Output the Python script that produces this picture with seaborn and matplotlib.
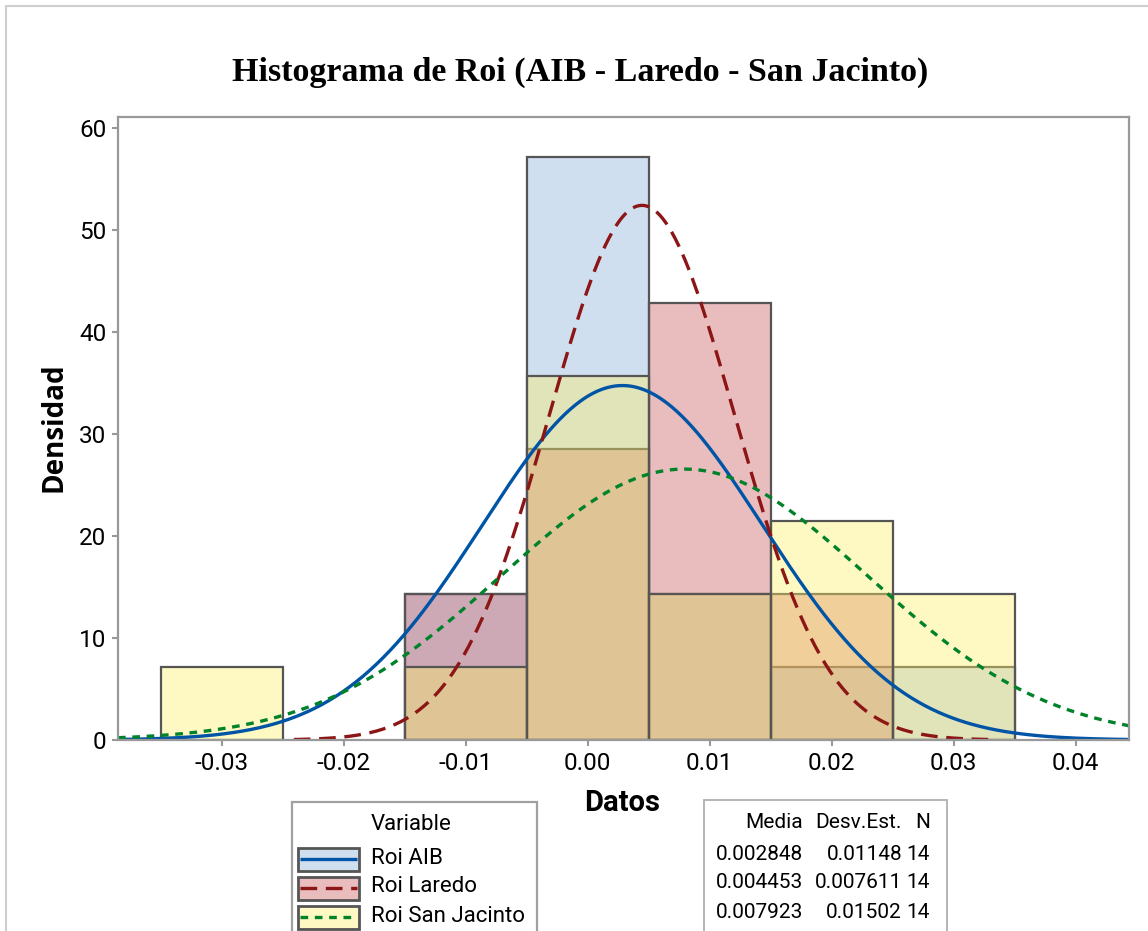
import numpy as np
import pandas as pd
import matplotlib
matplotlib.use("Agg")
import matplotlib.pyplot as plt
from matplotlib import font_manager
from matplotlib.patches import Rectangle
from matplotlib.lines import Line2D
import seaborn as sns

# ---------------- data ----------------
bin_centers = [-0.03, -0.02, -0.01, 0.00, 0.01, 0.02, 0.03]
bin_edges = [-0.035, -0.025, -0.015, -0.005, 0.005, 0.015, 0.025, 0.035]
counts_aib = [0, 0, 2, 8, 2, 1, 1]
counts_laredo = [0, 0, 2, 4, 6, 2, 0]
counts_sanjacinto = [1, 0, 1, 5, 2, 3, 2]
series_names = ["Roi AIB", "Roi Laredo", "Roi San Jacinto"]
means = [0.002848, 0.004453, 0.007923]
stdevs = [0.01148, 0.007611, 0.01502]
n_obs = [14, 14, 14]
mean_labels = ["0.002848", "0.004453", "0.007923"]
sd_labels = ["0.01148", "0.007611", "0.01502"]
x_ticks = [-0.03, -0.02, -0.01, 0.00, 0.01, 0.02, 0.03, 0.04]
x_tick_labels = ["-0.03", "-0.02", "-0.01", "0.00", "0.01", "0.02", "0.03", "0.04"]
y_ticks = [0, 10, 20, 30, 40, 50, 60]
y_tick_labels = ["0", "10", "20", "30", "40", "50", "60"]

# ---------------- style ----------------
sns.set_style("white")
avail = {f.name for f in font_manager.fontManager.ttflist}
narrow = next((f for f in ["Liberation Sans Narrow", "Roboto"] if f in avail), "DejaVu Sans")
plt.rcParams["font.family"] = [narrow, "DejaVu Sans"]
plt.rcParams["text.color"] = "black"
plt.rcParams["axes.labelcolor"] = "black"

W, H = 1148, 931
fig = plt.figure(figsize=(W / 100, H / 100), dpi=100)

def fx(x):
    return x / W

def fy(y):
    return 1 - y / H

ax_l, ax_r, ax_t, ax_b = 118, 1129, 117, 740
ax = fig.add_axes([fx(ax_l), fy(ax_b), fx(ax_r - ax_l), (ax_b - ax_t) / H])

fill_colors = ["#8aafda", "#c8585a", "#fdee67"]
line_colors = ["#0054a6", "#8c1515", "#00822a"]
line_styles = [(0, ()), (0, (5, 2.6)), (0, (2.3, 2.0))]
alpha = 0.4

df = pd.DataFrame({"centro": bin_centers * 3,
                   "conteo": counts_aib + counts_laredo + counts_sanjacinto,
                   "serie": sum([[s] * len(bin_centers) for s in series_names], [])})

for i, name in enumerate(series_names):
    before = len(ax.patches)
    sub = df[df["serie"] == name]
    sns.histplot(data=sub, x="centro", weights="conteo", bins=bin_edges,
                 stat="density", color=fill_colors[i], ax=ax)
    new = ax.patches[before:]
    rgb = matplotlib.colors.to_rgb(fill_colors[i])
    for p in new:
        if p.get_height() <= 0:
            p.remove()
            continue
        p.set_alpha(None)
        p.set_facecolor((*rgb, alpha))
        p.set_edgecolor("#555555")
        p.set_linewidth(1.6)

xmin, xmax = -0.0385, 0.04438
for i, name in enumerate(series_names):
    lo = max(xmin, means[i] - 3.75 * stdevs[i])
    hi = min(xmax, means[i] + 3.75 * stdevs[i])
    xs = np.linspace(lo, hi, 600)
    ys = np.exp(-0.5 * ((xs - means[i]) / stdevs[i]) ** 2) / (stdevs[i] * np.sqrt(2 * np.pi))
    sns.lineplot(x=xs, y=ys, ax=ax, color=line_colors[i], linewidth=2.4,
                 linestyle=line_styles[i], clip_on=True)

ax.set_xlim(xmin, xmax)
ax.set_ylim(0, 61.08)
ax.set_xticks(x_ticks)
ax.set_xticklabels(x_tick_labels)
ax.set_yticks(y_ticks)
ax.set_yticklabels(y_tick_labels)
ax.tick_params(axis="both", direction="out", length=4.5, width=1.5, color="#999999",
               labelcolor="black", labelsize=17.5, pad=4, bottom=True, left=True)
for s in ax.spines.values():
    s.set_color("#999999")
    s.set_linewidth(1.6)
ax.set_xlabel("")
ax.set_ylabel("")

# axis labels
fig.text(fx(622), fy(803), "Datos", ha="center", va="center", fontsize=21,
         fontweight="bold", family=[narrow, "DejaVu Sans"])
fig.text(fx(54), fy(427), "Densidad", ha="center", va="center", fontsize=20,
         fontweight="bold", rotation=90, family=["Open Sans", "DejaVu Sans"])

# title
fig.text(fx(580), fy(72), "Histograma de Roi (AIB - Laredo - San Jacinto)", ha="center",
         va="center", fontsize=24.5, fontweight="bold", family=["Liberation Serif", "DejaVu Serif"])

# outer border (partially visible)
fig.add_artist(Rectangle((fx(6), fy(H + 20)), fx(W + 20), (H + 14) / H,
                         transform=fig.transFigure, fill=False, edgecolor="#cfcfcf",
                         linewidth=1.5, clip_on=False))

# legend box
fig.add_artist(Rectangle((fx(292), fy(H + 20)), fx(537 - 292), (H + 20 - 802) / H,
                         transform=fig.transFigure, fill=False, edgecolor="#a0a0a0",
                         linewidth=1.6, clip_on=False))
fig.text(fx(371), fy(825), "Variable", ha="left", va="center", fontsize=16)
row_y = [859, 888, 917]
for i, name in enumerate(series_names):
    yc = row_y[i]
    rgb = matplotlib.colors.to_rgb(fill_colors[i])
    face = tuple(1 - alpha + alpha * c for c in rgb)
    fig.add_artist(Rectangle((fx(298), fy(yc + 11.5)), fx(61), 23 / H,
                             transform=fig.transFigure, facecolor=face,
                             edgecolor="#555555", linewidth=2.0))
    fig.add_artist(Line2D([fx(300), fx(357)], [fy(yc), fy(yc)], transform=fig.transFigure,
                          color=line_colors[i], linewidth=2.4, linestyle=line_styles[i]))
    fig.text(fx(371), fy(yc - 1), name, ha="left", va="center", fontsize=16)

# statistics box
fig.add_artist(Rectangle((fx(704), fy(H + 20)), fx(947 - 704), (H + 20 - 800) / H,
                         transform=fig.transFigure, fill=False, edgecolor="#b0b0b0",
                         linewidth=1.3, clip_on=False))
col_x = [803, 902, 930]
stat_fs = 15
fig.text(fx(col_x[0]), fy(823), "Media", ha="right", va="center", fontsize=stat_fs)
fig.text(fx(col_x[1]), fy(823), "Desv.Est.", ha="right", va="center", fontsize=stat_fs)
fig.text(fx(col_x[2]), fy(823), "N", ha="right", va="center", fontsize=stat_fs)
stat_y = [854, 883, 913]
for i in range(3):
    fig.text(fx(col_x[0]), fy(stat_y[i]), mean_labels[i], ha="right", va="center", fontsize=stat_fs)
    fig.text(fx(col_x[1]), fy(stat_y[i]), sd_labels[i], ha="right", va="center", fontsize=stat_fs)
    fig.text(fx(col_x[2]), fy(stat_y[i]), str(n_obs[i]), ha="right", va="center", fontsize=stat_fs)

fig.savefig("out.png", dpi=100)
